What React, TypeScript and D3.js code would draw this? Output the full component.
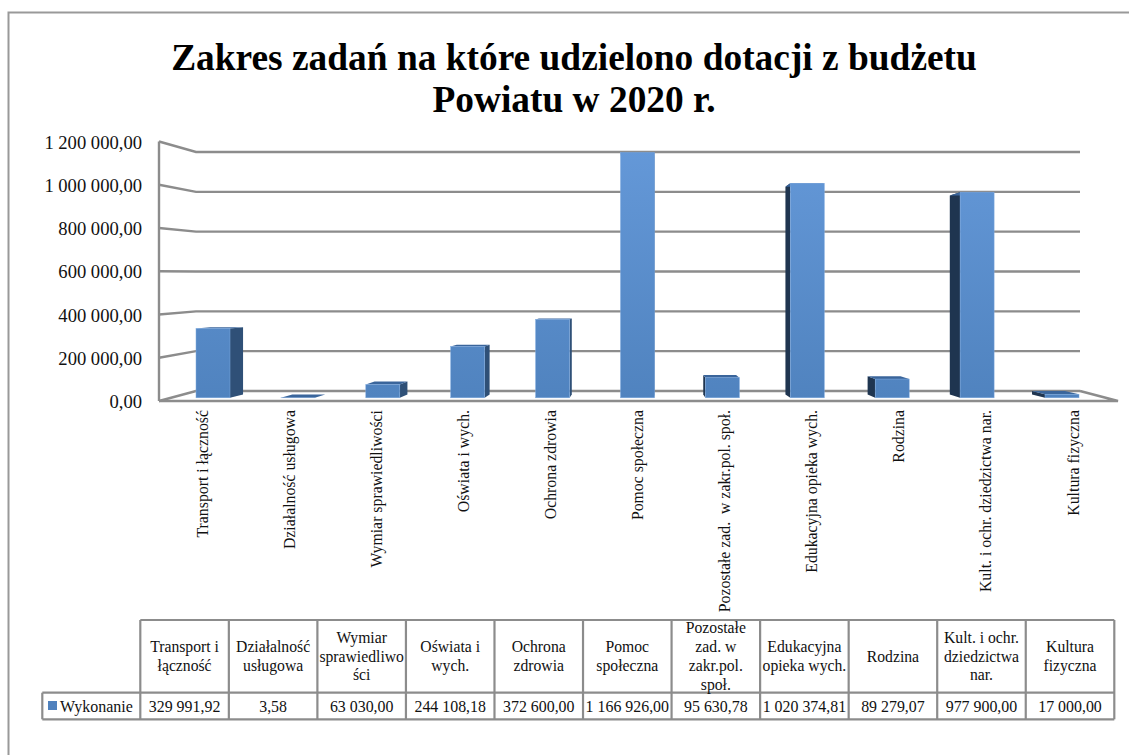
import React from "react";
import * as d3 from "d3";

const titleLines = ["Zakres zadań na które udzielono dotacji z budżetu", "Powiatu w 2020 r."];
const categories = [
  "Transport i łączność",
  "Działalność usługowa",
  "Wymiar sprawiedliwości",
  "Oświata i wych.",
  "Ochrona zdrowia",
  "Pomoc społeczna",
  "Pozostałe zad.  w zakr.pol. społ.",
  "Edukacyjna opieka wych.",
  "Rodzina",
  "Kult. i ochr. dziedzictwa nar.",
  "Kultura fizyczna",
];
const tableHeaders = [
  ["Transport i", "łączność"],
  ["Działalność", "usługowa"],
  ["Wymiar", "sprawiedliwo", "ści"],
  ["Oświata i", "wych."],
  ["Ochrona", "zdrowia"],
  ["Pomoc", "społeczna"],
  ["Pozostałe", "zad. w", "zakr.pol.", "społ."],
  ["Edukacyjna", "opieka wych."],
  ["Rodzina"],
  ["Kult. i ochr.", "dziedzictwa", "nar."],
  ["Kultura", "fizyczna"],
];
const values = [329991.92, 3.58, 63030, 244108.18, 372600, 1166926, 95630.78, 1020374.81, 89279.07, 977900, 17000];
const ticks = [0, 200000, 400000, 600000, 800000, 1000000, 1200000];
const seriesName = "Wykonanie";

const serif = "'Liberation Serif', 'Times New Roman', serif";
const gridColor = "#8c8c8c";
const locale = d3.formatLocale({ decimal: ",", thousands: " ", grouping: [3], currency: ["", ""] });
const fmt = locale.format(",.2f");

const yFront = d3.scaleLinear().domain([0, 1200000]).range([401, 141.5]);
const yBack = d3.scaleLinear().domain([0, 1200000]).range([391, 152]);
const yBar = d3.scaleLinear().domain([0, 1200000]).range([397.8, 145.5]);
const xBar = d3.scalePoint<string>().domain(categories).range([213, 1062]);
const xLabel = d3.scalePoint<string>().domain(categories).range([202, 1073]);
const xCol = d3.scaleLinear().domain([0, 11]).range([140.3, 1114.3]);

const barW = 34;
const vx = 638;
const vy = 292;
const k = 0.032;
const backPt = (x: number, y: number): [number, number] => [x + (vx - x) * k, y + (vy - y) * k];
const pts = (a: [number, number][]) => a.map((p) => p.join(",")).join(" ");

export default function App() {
  return (
    <svg
      width={1129}
      height={755}
      viewBox="0 0 1129 755"
      style={{ position: "absolute", left: 0, top: 0, display: "block", background: "#fff" }}
      fontFamily={serif}
    >
      <defs>
        <linearGradient id="barFront" gradientUnits="userSpaceOnUse" x1="0" x2="0" y1="150" y2="398">
          <stop offset="0" stopColor="#6498D8" />
          <stop offset="1" stopColor="#5083BF" />
        </linearGradient>
      </defs>

      {/* outer frame */}
      <path d="M1129,12.5 H8.5 V755" fill="none" stroke="#999" strokeWidth={2} />

      {/* title */}
      <g fontWeight="bold" fontSize={37.4} textAnchor="middle" fill="#000">
        <text x={574} y={69.5}>{titleLines[0]}</text>
        <text x={574} y={112}>{titleLines[1]}</text>
      </g>

      {/* walls and gridlines */}
      <g fill="none" stroke={gridColor} strokeWidth={2.4}>
        {ticks.map((t) => (
          <polyline
            key={t}
            points={pts([
              [159, yFront(t)],
              [196, yBack(t)],
              [1080, yBack(t)],
            ])}
          />
        ))}
        <line x1={159} x2={159} y1={yFront(1200000)} y2={yFront(0)} />
        <polyline
          points={pts([
            [159, yFront(0)],
            [1118, yFront(0)],
            [1080, yBack(0)],
          ])}
        />
      </g>

      {/* y axis labels */}
      <g fontSize={18.6} textAnchor="end" fill="#111">
        {ticks.map((t) => (
          <text key={t} x={142} y={yFront(t) + 7}>{fmt(t)}</text>
        ))}
      </g>

      {/* bars */}
      {categories.map((c, i) => {
        const cx = xBar(c) as number;
        const x0 = cx - barW / 2;
        const x1 = cx + barW / 2;
        const top = yBar(values[i]);
        const bot = yBar(0);
        const onLeft = cx < vx;
        const sx = onLeft ? x1 : x0;
        const topFace: [number, number][] = [[x0, top], [x1, top], backPt(x1, top), backPt(x0, top)];
        const sideFace: [number, number][] = [[sx, top], [sx, bot], backPt(sx, bot), backPt(sx, top)];
        return (
          <g key={c}>
            <polygon points={pts(sideFace)} fill={onLeft ? "#2F5077" : "#1F3550"} />
            <polygon points={pts(topFace)} fill="#3A659B" />
            <rect x={x0} y={top} width={barW} height={bot - top} fill="url(#barFront)" stroke="#7FAADF" strokeWidth={0.5} />
          </g>
        );
      })}

      {/* rotated category labels */}
      <g fontSize={15.8} fill="#111" textAnchor="end">
        {categories.map((c) => (
          <text
            key={c}
            transform={`translate(${(xLabel(c) as number) + 5.5},410) rotate(-90)`}
            style={{ whiteSpace: "pre" }}
          >
            {c}
          </text>
        ))}
      </g>

      {/* data table */}
      <g stroke={gridColor} strokeWidth={2.2} fill="none">
        <line x1={xCol(0)} x2={xCol(11)} y1={620} y2={620} />
        <line x1={42.3} x2={xCol(11)} y1={692.7} y2={692.7} />
        <line x1={42.3} x2={xCol(11)} y1={719.3} y2={719.3} />
        <line x1={42.3} x2={42.3} y1={692.7} y2={719.3} />
        {d3.range(12).map((i) => (
          <line key={i} x1={xCol(i)} x2={xCol(i)} y1={620} y2={719.3} />
        ))}
      </g>
      <g fontSize={15.7} textAnchor="middle" fill="#111">
        {tableHeaders.map((lines, i) => (
          <g key={i}>
            {lines.map((l, j) => (
              <text
                key={j}
                x={(xCol(i) + xCol(i + 1)) / 2}
                y={656.5 + (j - (lines.length - 1) / 2) * 18.8 + 5}
              >
                {l}
              </text>
            ))}
          </g>
        ))}
      </g>
      <rect x={48} y={701} width={9} height={9} fill="#4F81BD" />
      <text x={60} y={711.5} fontSize={16} fill="#111">{seriesName}</text>
      <g fontSize={15.9} textAnchor="middle" fill="#111">
        {values.map((v, i) => (
          <text key={i} x={(xCol(i) + xCol(i + 1)) / 2} y={711.5}>{fmt(v)}</text>
        ))}
      </g>
    </svg>
  );
}
